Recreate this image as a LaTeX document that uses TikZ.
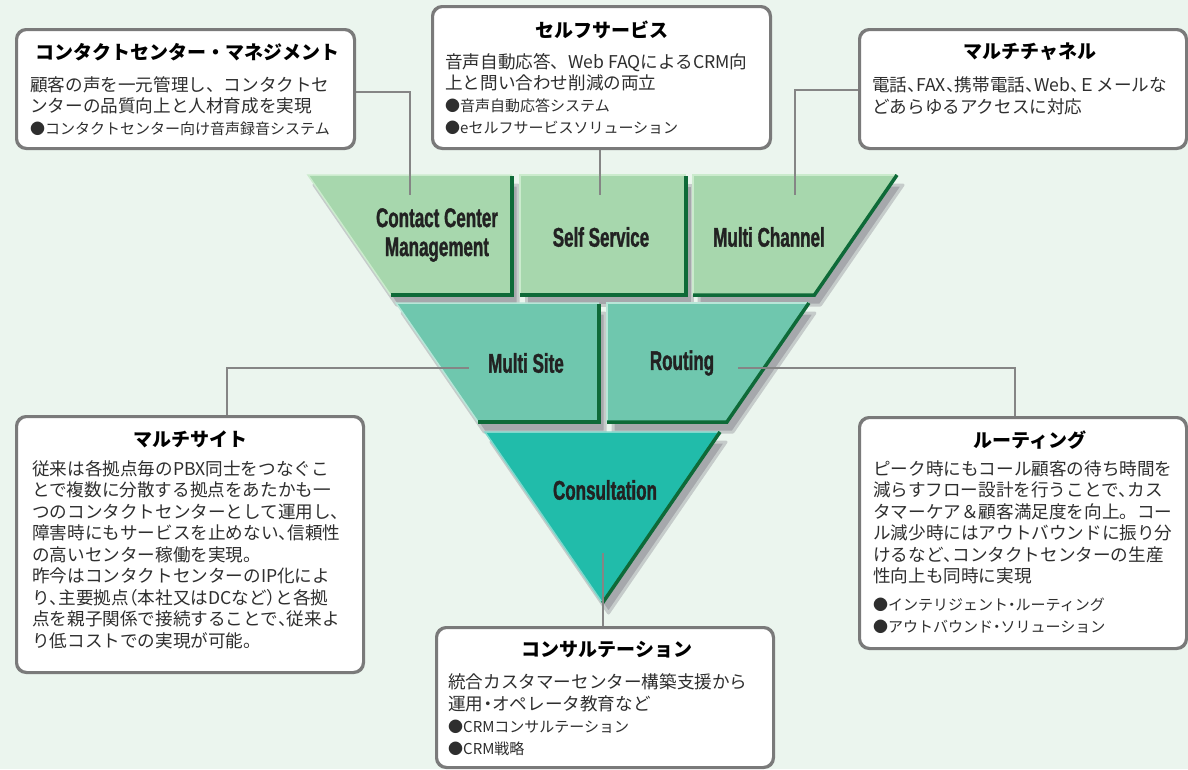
\documentclass[tikz,border=0pt]{standalone}
\usepackage{fontspec}
\setmainfont{Liberation Sans}
\newfontfamily\jp{Noto Sans CJK JP}
\newfontfamily\cnd[FakeStretch=0.63,FakeBold=1.2]{Liberation Sans}
\newcommand\hp[1]{{\addfontfeature{RawFeature=+halt}#1}}
\definecolor{bgcol}{HTML}{EBF5EE}
\definecolor{boxline}{HTML}{7A7A7A}
\definecolor{linkcol}{HTML}{858585}
\definecolor{topfill}{HTML}{A7D7AD}
\definecolor{toplight}{HTML}{CBEBCD}
\definecolor{midfill}{HTML}{6FC7AE}
\definecolor{midlight}{HTML}{B8E6D8}
\definecolor{botfill}{HTML}{21BCAA}
\definecolor{botlight}{HTML}{7FD8CC}
\definecolor{darkedge}{HTML}{0E6A38}
\definecolor{shadowcol}{HTML}{A6A8AC}
\definecolor{bodytext}{HTML}{2E2E2E}
\definecolor{lbltext}{HTML}{222222}
\tikzset{
  infobox/.style={draw=boxline, line width=2pt, fill=white, rounded corners=10pt, inner sep=0pt},
  boxtitle/.style={font=\jp\bfseries\fontsize{19}{22}\selectfont, text=black, inner sep=0pt},
  bodytxt/.style={anchor=base west, inner sep=0pt, text=bodytext, font=\jp\fontsize{17.6}{21.5}\selectfont},
  bullettxt/.style={anchor=base west, inner sep=0pt, text=bodytext, font=\jp\fontsize{15}{22}\selectfont},
  piecelabel/.style={font=\cnd\bfseries\fontsize{27}{29}\selectfont, text=lbltext, inner sep=0pt, align=center},
  shadowfill/.style={fill=shadowcol, draw=shadowcol!55!bgcol, line width=3pt, line join=round},
  darkline/.style={draw=darkedge, line width=3.5pt, line join=miter},
  link/.style={draw=linkcol, line width=1.5pt},
}
\begin{document}
\begin{tikzpicture}[x=1pt,y=-1pt]
\useasboundingbox (0,0) rectangle (1188,769);
\fill[bgcol] (0,0) rectangle (1188,769);

% ---------- top row ----------
\begin{scope}[shift={(6,10)}]
\path[shadowfill] (308,175) -- (512,175) -- (512,295) -- (390.6,295) -- cycle;
\path[shadowfill] (520,175) -- (686,175) -- (686,295) -- (520,295) -- cycle;
\path[shadowfill] (693,175) -- (897,175) -- (814.4,295) -- (693,295) -- cycle;
\end{scope}
\fill[topfill] (308,175) -- (512,175) -- (512,295) -- (390.6,295) -- cycle;
\fill[topfill] (520,175) -- (686,175) -- (686,295) -- (520,295) -- cycle;
\fill[topfill] (693,175) -- (897,175) -- (814.4,295) -- (693,295) -- cycle;
\draw[toplight, line width=1.5pt] (390.6,295) -- (308,175) -- (512,175);
\draw[toplight, line width=1.5pt] (520,295) -- (520,175) -- (686,175);
\draw[toplight, line width=1.5pt] (693,295) -- (693,175) -- (897,175);
\draw[darkline] (512,176) -- (512,295) -- (390.6,295);
\draw[darkline] (686,176) -- (686,295) -- (520,295);
\draw[darkline] (897,175) -- (814.4,295) -- (693,295);

% ---------- middle row ----------
\begin{scope}[shift={(6,10)}]
\path[shadowfill] (396.1,303) -- (599,303) -- (599,422) -- (478.1,422) -- cycle;
\path[shadowfill] (607,303) -- (808.9,303) -- (726.9,422) -- (607,422) -- cycle;
\end{scope}
\fill[midfill] (396.1,303) -- (599,303) -- (599,422) -- (478.1,422) -- cycle;
\fill[midfill] (607,303) -- (808.9,303) -- (726.9,422) -- (607,422) -- cycle;
\draw[midlight, line width=1.5pt] (478.1,422) -- (396.1,303) -- (599,303);
\draw[midlight, line width=1.5pt] (607,422) -- (607,303) -- (808.9,303);
\draw[darkline] (599,304) -- (599,422) -- (478.1,422);
\draw[darkline] (808.9,303) -- (726.9,422) -- (607,422);

% ---------- bottom triangle ----------
\begin{scope}[shift={(6,10)}]
\path[shadowfill] (485,432) -- (720,432) -- (602.5,603) -- cycle;
\end{scope}
\fill[botfill] (485,432) -- (720,432) -- (602.5,603) -- cycle;
\draw[botlight, line width=1.5pt] (602.5,603) -- (485,432) -- (720,432);
\draw[darkline] (720,432) -- (602.5,603);

% ---------- piece labels ----------
\node[piecelabel] (ccmlbl) at (437,235) {Contact Center\\Management};
\node[piecelabel] (sslbl) at (601,237) {Self Service};
\node[piecelabel] (mclbl) at (769,237) {Multi Channel};
\node[piecelabel] (mslbl) at (526,363) {Multi Site};
\node[piecelabel] (rtlbl) at (682,363) {Routing};
\node[piecelabel] (conlbl) at (605,490) {Consultation};

% ---------- link points ----------
\coordinate (ccmturn) at (410,92);
\coordinate (ccmend) at (410,195);
\coordinate (ssend) at (600,195);
\coordinate (mcturn) at (795,90);
\coordinate (mcend) at (795,195);
\coordinate (msturn) at (227,368);
\coordinate (msend) at (469,368);
\coordinate (rtturn) at (1015,368);
\coordinate (rtend) at (738,368);
\coordinate (conend) at (603,553);

% ---------- boxes ----------
\node[infobox, minimum width=337pt, minimum height=118pt] (box1) at (185.5,89) {};
\node[infobox, minimum width=337pt, minimum height=141pt] (box2) at (601.5,77.5) {};
\node[infobox, minimum width=326pt, minimum height=118pt] (box3) at (1023,89) {};
\node[infobox, minimum width=346pt, minimum height=255pt] (box4) at (190,544.5) {};
\node[infobox, minimum width=326pt, minimum height=230pt] (box5) at (1023,533) {};
\node[infobox, minimum width=336pt, minimum height=139pt] (box6) at (605,697.5) {};

% ---------- connectors ----------
\draw[link] (box1.east |- ccmturn) -- (ccmturn) -- (ccmend);
\draw[link] (box2.south -| ssend) -- (ssend);
\draw[link] (box3.west |- mcturn) -- (mcturn) -- (mcend);
\draw[link] (box4.north -| msturn) -- (msturn) -- (msend);
\draw[link] (box5.north -| rtturn) -- (rtturn) -- (rtend);
\draw[link] (box6.north -| conend) -- (conend);

% redraw box borders over connector ends
\foreach \b in {box1,box2,box3,box4,box5,box6}
  \draw[boxline, line width=2pt, rounded corners=10pt] (\b.north west) rectangle (\b.south east);

% ---------- box texts ----------
\node[boxtitle] (t1) at (187,52.5) {コンタクトセンター・マネジメント};
\node[bodytxt] (d1) at (30,91) {\parbox[t]{380pt}{顧客の声を一元管理し、コンタクトセ\\ンターの品質向上と人材育成を実現}};
\node[bullettxt] (p1) at (30,134.7) {\parbox[t]{380pt}{●コンタクトセンター向け音声録音システム}};

\node[boxtitle] (t2) at (602,30) {セルフサービス};
\node[bodytxt] (d2) at (445,68) {\parbox[t]{380pt}{音声自動応答、Web FAQによるCRM向\\上と問い合わせ削減の両立}};
\node[bullettxt] (p2) at (445,111.7) {\parbox[t]{380pt}{●音声自動応答システム\\●eセルフサービスソリューション}};

\node[boxtitle] (t3) at (1030,52) {マルチチャネル};
\node[bodytxt] (d3) at (872,91.8) {\parbox[t]{380pt}{電話\hp{、}FAX\hp{、}携帯電話\hp{、}Web\hp{、}Ｅメールな\\どあらゆるアクセスに対応}};

\node[boxtitle] (t4) at (190,439.5) {マルチサイト};
\node[bodytxt] (d4) at (32,475) {\parbox[t]{380pt}{従来は各拠点毎のPBX同士をつなぐこ\\とで複数に分散する拠点をあたかも一\\つのコンタクトセンターとして運用し、\\障害時にもサービスを止めない\hp{、}信頼性\\の高いセンター稼働を実現。\\昨今はコンタクトセンターのIP化によ\\り\hp{、}主要拠点\hp{（}本社又はDCなど\hp{）}と各拠\\点を親子関係で接続することで\hp{、}従来よ\\り低コストでの実現が可能。}};

\node[boxtitle] (t5) at (1030,440.5) {ルーティング};
\node[bodytxt] (d5) at (873,475) {\parbox[t]{380pt}{ピーク時にもコール顧客の待ち時間を\\減らすフロー設計を行うことで\hp{、}カス\\タマーケア＆顧客満足度を向上。コー\\ル減少時にはアウトバウンドに振り分\\けるなど\hp{、}コンタクトセンターの生産\\性向上も同時に実現}};
\node[bullettxt] (p5) at (873,610.5) {\parbox[t]{380pt}{●インテリジェント\hp{・}ルーティング\\●アウトバウンド\hp{・}ソリューション}};

\node[boxtitle] (t6) at (607,650) {コンサルテーション};
\node[bodytxt] (d6) at (448,688.8) {\parbox[t]{380pt}{統合カスタマーセンター構築支援から\\運用\hp{・}オペレータ教育など}};
\node[bullettxt] (p6) at (448,732.2) {\parbox[t]{380pt}{●CRMコンサルテーション\\●CRM戦略}};
\end{tikzpicture}
\end{document}
